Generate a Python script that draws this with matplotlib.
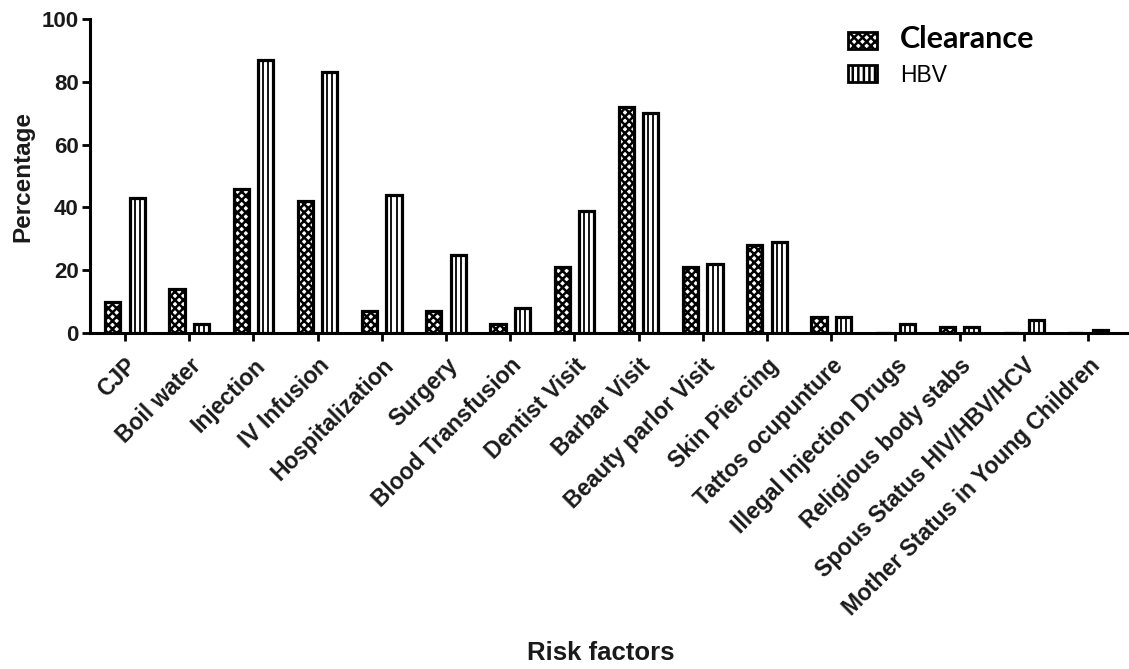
import matplotlib
matplotlib.use("Agg")
import matplotlib.pyplot as plt
import numpy as np
from matplotlib.patches import Patch

categories = ["CJP", "Boil water", "Injection", "IV Infusion", "Hospitalization",
              "Surgery", "Blood Transfusion", "Dentist Visit", "Barbar Visit",
              "Beauty parlor Visit", "Skin Piercing", "Tattos ocupunture",
              "Illegal Injection Drugs", "Religious body stabs",
              "Spous Status HIV/HBV/HCV", "Mother Status in Young Children"]
clearance = [10, 14, 46, 42, 7, 7, 3, 21, 72, 21, 28, 5, 0, 2, 0, 0]
hbv = [43, 3, 87, 83, 44, 25, 8, 39, 70, 22, 29, 5, 3, 2, 4, 1]
yticks = [0, 20, 40, 60, 80, 100]

plt.rcParams["font.family"] = ["Liberation Sans", "DejaVu Sans"]
plt.rcParams["hatch.linewidth"] = 1.8

fig = plt.figure(figsize=(11.29, 6.69), dpi=100)
ax = fig.add_axes([0.0797, 0.5022, 0.9193, 0.4694])

x = np.arange(len(categories))
w = 0.235
off = 0.19
lw = 2.3

ax.bar(x - off, clearance, width=w, facecolor="white", edgecolor="black",
       hatch="xxxx", linewidth=lw, zorder=3)
ax.bar(x + off, hbv, width=w, facecolor="white", edgecolor="black",
       linewidth=lw, zorder=3)
# inner stripes of the HBV bars
for xi, v in zip(x + off, hbv):
    if v > 0:
        ax.vlines([xi - w / 6, xi + w / 6], 0, v, colors="black",
                  linewidth=1.3, zorder=4)

ax.set_xlim(-0.545, 15.62)
ax.set_ylim(0, 100)
ax.set_yticks(yticks)
ax.set_yticklabels([str(t) for t in yticks], fontsize=16, fontweight="bold",
                   color="#1a1a1a")
ax.set_xticks(x)
ax.set_xticklabels(categories, rotation=45, ha="right", va="top",
                   rotation_mode="anchor", fontsize=16.5, fontweight="bold",
                   color="#1a1a1a")

for s in ["top", "right"]:
    ax.spines[s].set_visible(False)
for s in ["left", "bottom"]:
    ax.spines[s].set_linewidth(2.2)
ax.tick_params(axis="both", direction="out", length=6, width=2.0, pad=2)
ax.tick_params(axis="x", pad=9)

ax.set_ylabel("Percentage", fontsize=17.5, fontweight="bold", labelpad=5,
              color="#1a1a1a")
fig.text(0.532, 0.024, "Risk factors", fontsize=18.5, fontweight="bold",
         ha="center", va="center", color="#1a1a1a")

handles = [Patch(facecolor="white", edgecolor="black", hatch="xxxx", linewidth=2),
           Patch(facecolor="white", edgecolor="black", hatch="|||", linewidth=2)]
leg = ax.legend(handles, ["Clearance", "HBV"], loc="upper left",
                bbox_to_anchor=(0.71, 1.045), frameon=False, fontsize=16.5,
                handlelength=1.3, handleheight=0.75, handletextpad=1.0,
                labelspacing=0.45)
t0, t1 = leg.get_texts()
t0.set_fontfamily(["Lato", "DejaVu Sans"])
t0.set_fontweight("bold")
t0.set_fontsize(22)

fig.savefig("out.png", dpi=100)
